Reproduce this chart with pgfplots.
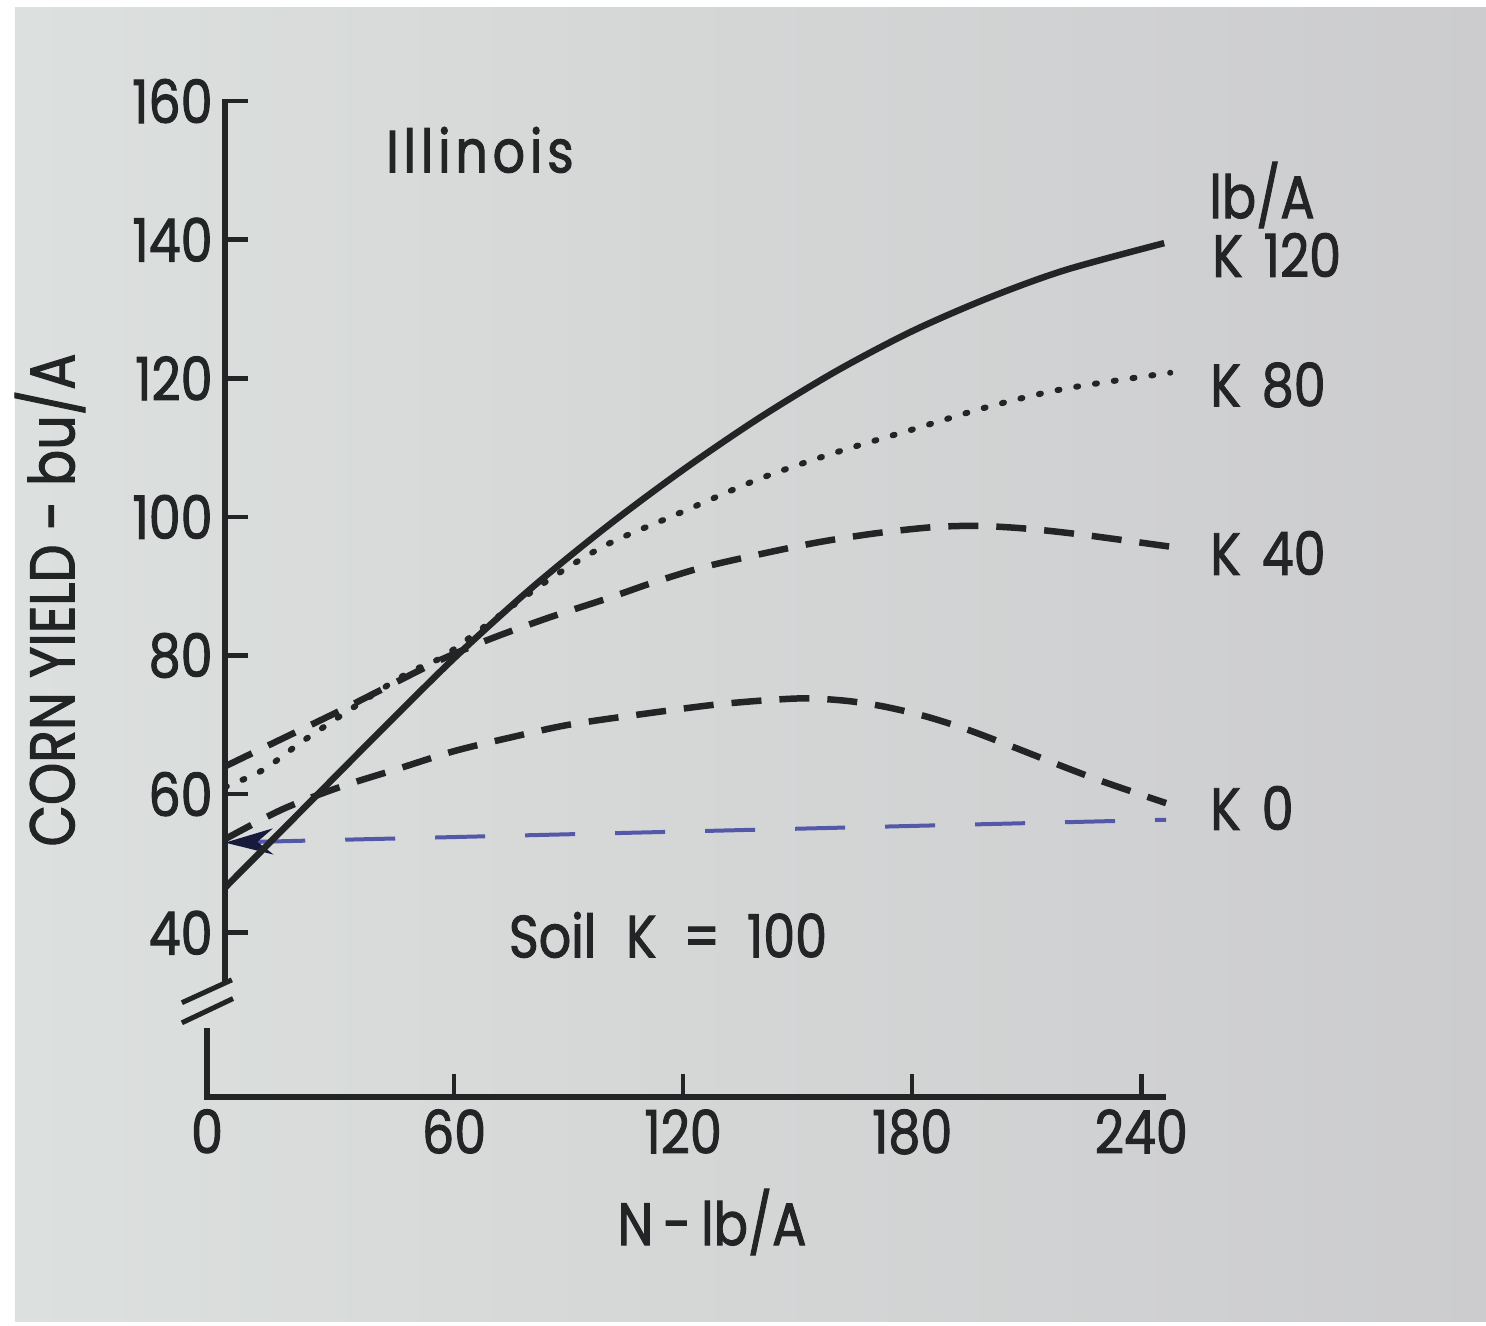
\documentclass[border=0pt]{standalone}
\usepackage{fontspec}
\setmainfont{Poppins}[FakeStretch=0.85, FakeBold=1.6]
\usepackage{pgfplots}
\pgfplotsset{compat=1.18}
\usetikzlibrary{arrows.meta}

\definecolor{ink}{RGB}{34,36,38}
\definecolor{paperL}{RGB}{220,224,222}
\definecolor{paperR}{RGB}{204,204,206}
\definecolor{bluepen}{RGB}{84,88,168}
\definecolor{blob}{RGB}{24,26,60}
\newcommand\lab{\fontsize{17}{20}\selectfont}

\begin{document}
\begin{tikzpicture}
% photo frame and paper
\fill[white] (0,0) rectangle (14.86,13.26);
\shade[left color=paperL, right color=paperR] (0.15,0.04) rectangle (14.86,13.18);

\begin{axis}[
    at={(2.25cm,2.29cm)}, anchor=south west,
    scale only axis, width=9.43cm, height=9.98cm,
    xmin=0, xmax=247, ymin=16.3, ymax=160.3,
    axis lines*=left, axis line style={draw=none},
    tick align=inside, major tick length=0.23cm,
    tick style={ink, line width=0.045cm},
    xtick={60,120,180,240}, ytick={40,60,...,160},
    /pgf/number format/assume math mode=true,
    ticklabel style={font=\lab, text=ink},
    clip=false,
]
% axis lines with the break
\draw[ink, line width=0.055cm] (0,32.6) -- (0,160.3);
\draw[ink, line width=0.055cm] (-4.7,26.2) -- (-4.7,16.3) -- (246.5,16.3);
\draw[ink, line width=0.05cm] (-11.3,29.9) -- (1.8,33.2);
\draw[ink, line width=0.05cm] (-11.3,27.0) -- (2.1,30.5);

% check line
\addplot[bluepen, line width=0.04cm, dash pattern=on 0.5cm off 0.4cm,
    {Stealth[length=0.48cm,width=0.26cm,color=blob]}-]
    coordinates {(0,53.0) (246.5,56.3)};

% K 0
\addplot[ink, line width=0.065cm, dash pattern=on 0.30cm off 0.18cm, smooth] coordinates {
    (0,53.5) (15,57.8) (30,61) (45,63.6) (60,66.2) (75,68.2) (90,70) (110,71.6)
    (130,73.0) (150,73.8) (162,73.5) (172,72.7) (183,71.3) (194,69.4) (206,66.9)
    (218,64.3) (230,61.8) (246.5,58.7)};

% K 40
\addplot[ink, line width=0.065cm, dash pattern=on 0.30cm off 0.18cm, smooth] coordinates {
    (0,64) (15,68) (30,72) (45,76.2) (57,79.5) (70,82.5) (85,85.5) (100,88.2)
    (112,90.5) (125,92.7) (140,94.6) (155,96.3) (170,97.6) (185,98.5) (197,98.7)
    (210,98.3) (225,97.4) (247.6,95.7)};

% K 80
\addplot[ink, line width=0.06cm, line cap=round, dash pattern=on 0.02cm off 0.17cm, smooth] coordinates {
    (0,61) (10,63.5) (20,67.5) (35,73) (48,77.5) (57,79.8) (70,85) (85,91) (100,96)
    (118,100.3) (140,105.5) (160,109.3) (180,112.6) (200,115.9) (220,118.5) (247.6,120.8)};

% K 120
\addplot[ink, line width=0.065cm, smooth] coordinates {
    (0,46.5) (20,57.6) (40,68.7) (60,79.6) (80,89.6) (100,98.6) (120,106.8)
    (140,114.3) (160,121.0) (180,126.8) (200,131.6) (220,135.6) (246,139.5)};

\node[font=\lab, text=ink, anchor=north] at (-4.7,16.3) {0};
\end{axis}

% texts
\node[rotate=90, font=\fontsize{18}{20}\selectfont, text=ink] at (0.50,7.26) {CORN YIELD - bu/A};
\node[font=\lab, text=ink] at (7.12,1.04) {N\,-\,lb/A};
\node[font=\lab, text=ink] at (4.80,11.76) {\addfontfeature{LetterSpace=8}Illinois};
\node[font=\lab, text=ink] at (12.62,11.31) {lb/A};
\node[font=\lab, text=ink, anchor=west] at (12.00,10.71) {K\hspace{0.35em}120};
\node[font=\lab, text=ink, anchor=west] at (11.98,9.41) {K\hspace{0.35em}80};
\node[font=\lab, text=ink, anchor=west] at (11.98,7.73) {K\hspace{0.35em}40};
\node[font=\lab, text=ink, anchor=west] at (11.98,5.18) {K\hspace{0.35em}0};
\node[font=\lab, text=ink] at (6.68,3.91) {Soil\hspace{0.5em}K\hspace{0.45em}=\hspace{0.45em}100};
\end{tikzpicture}
\end{document}
